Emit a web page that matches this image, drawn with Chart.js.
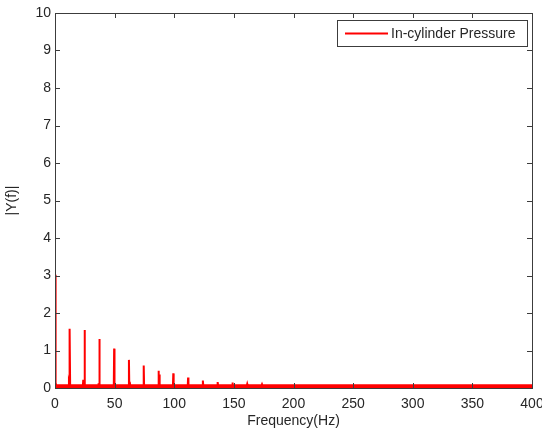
<!DOCTYPE html>
<html>
<head>
<meta charset="utf-8">
<script src="https://cdn.jsdelivr.net/npm/chart.js@4"></script>
<style>
  html, body { margin: 0; padding: 0; background: #fff; }
</style>
</head>
<body>
<canvas id="chart" width="542" height="432"></canvas>
<script>
// Harmonic peaks of the pressure spectrum (Hz, |Y(f)|)
const peakFreqs   = [12.4, 24.8, 37.2, 49.6, 62.0, 74.4, 86.8, 99.2, 111.6, 124.0, 136.4, 148.8, 161.2, 173.6];
const peakHeights = [1.58, 1.55, 1.31, 1.05, 0.75, 0.60, 0.46, 0.39, 0.28, 0.20, 0.16, 0.15, 0.11, 0.10];

// Smaller side lobes next to some harmonics
const sideFreqs   = [11.7, 23.7, 36.4, 62.8, 87.6, 111.2];
const sideHeights = [0.12, 0.22, 0.13, 0.16, 0.36, 0.09];

const dcValue = 3.02;      // value at 0 Hz
const floorLevel = 0.075;  // noise floor
const freqMax = 400;

const xTicks = [0, 50, 100, 150, 200, 250, 300, 350, 400];
const yTicks = [0, 1, 2, 3, 4, 5, 6, 7, 8, 9, 10];

const seriesLabel = 'In-cylinder Pressure';
const red = '#ff0000';
const axisColor = '#3c3c3c';
const textColor = '#262626';
const font = { family: '"Liberation Sans", Arial, sans-serif', size: 14 };

// assemble the spectrum polyline: DC spike, then each peak as a narrow spike on the floor
function buildSpectrum() {
    const spikes = [];
    peakFreqs.forEach((f, i) => spikes.push([f, peakHeights[i]]));
    sideFreqs.forEach((f, i) => spikes.push([f, sideHeights[i]]));
    spikes.sort((a, b) => a[0] - b[0]);

    const pts = [{ x: 0, y: dcValue }, { x: 0.5, y: 0.14 }, { x: 1.0, y: floorLevel }];
    spikes.forEach(([f, h]) => {
        pts.push({ x: f - 0.3, y: floorLevel });
        pts.push({ x: f, y: h });
        pts.push({ x: f + 0.3, y: floorLevel });
    });
    pts.push({ x: freqMax, y: floorLevel });
    return pts;
}

// box around the plot, inward ticks on all four sides, legend in the corner
const matlabAxes = {
    id: 'matlabAxes',
    afterDraw(chart) {
        const { ctx, chartArea: a, scales } = chart;
        const tick = 5;
        ctx.save();
        ctx.strokeStyle = axisColor;
        ctx.lineWidth = 1;
        ctx.strokeRect(Math.round(a.left) + 0.5, Math.round(a.top) + 0.5,
                       Math.round(a.right - a.left), Math.round(a.bottom - a.top));

        ctx.beginPath();
        xTicks.forEach(v => {
            const px = Math.round(scales.x.getPixelForValue(v)) + 0.5;
            ctx.moveTo(px, a.bottom); ctx.lineTo(px, a.bottom - tick);
            ctx.moveTo(px, a.top); ctx.lineTo(px, a.top + tick);
        });
        yTicks.forEach(v => {
            const py = Math.round(scales.y.getPixelForValue(v)) + 0.5;
            ctx.moveTo(a.left, py); ctx.lineTo(a.left + tick, py);
            ctx.moveTo(a.right, py); ctx.lineTo(a.right - tick, py);
        });
        ctx.stroke();

        // legend
        const lx = 337.5, ly = 20.5, lw = 190, lh = 26;
        ctx.fillStyle = '#fff';
        ctx.fillRect(lx, ly, lw, lh);
        ctx.strokeStyle = axisColor;
        ctx.strokeRect(lx, ly, lw, lh);
        ctx.strokeStyle = red;
        ctx.lineWidth = 2;
        ctx.beginPath();
        ctx.moveTo(345, 33.5);
        ctx.lineTo(388, 33.5);
        ctx.stroke();
        ctx.fillStyle = textColor;
        ctx.font = `${font.size}px ${font.family}`;
        ctx.textBaseline = 'middle';
        ctx.fillText(chart.data.datasets[0].label, 391, 34);
        ctx.restore();
    }
};

new Chart(document.getElementById('chart'), {
    type: 'line',
    data: {
        datasets: [{
            label: seriesLabel,
            data: buildSpectrum(),
            borderColor: red,
            backgroundColor: red,
            borderWidth: 2,
            pointRadius: 0,
            tension: 0,
            fill: 'origin',
        }],
    },
    options: {
        responsive: false,
        animation: false,
        layout: { padding: { top: 13, right: 10, left: 0, bottom: 0 } },
        plugins: {
            legend: { display: false },
            tooltip: { enabled: false },
        },
        scales: {
            x: {
                type: 'linear',
                min: 0,
                max: freqMax,
                afterBuildTicks: s => { s.ticks = xTicks.map(v => ({ value: v })); },
                ticks: { color: textColor, font, padding: 8, maxRotation: 0 },
                grid: { display: false, drawTicks: false },
                border: { display: false },
                title: { display: true, text: 'Frequency(Hz)', color: textColor, font, padding: { top: 0, bottom: 2 } },
                afterFit: s => { s.height = 44; s.paddingLeft = 0; s.paddingRight = 0; },
            },
            y: {
                min: 0,
                max: 10,
                afterBuildTicks: s => { s.ticks = yTicks.map(v => ({ value: v })); },
                ticks: { color: textColor, font, padding: 4 },
                grid: { display: false, drawTicks: false },
                border: { display: false },
                title: { display: true, text: '|Y(f)|', color: textColor, font, padding: { top: 4, bottom: 0 } },
                afterFit: s => { s.width = 55; s.paddingTop = 0; s.paddingBottom = 0; },
            },
        },
    },
    plugins: [matlabAxes],
});
</script>
</body>
</html>
